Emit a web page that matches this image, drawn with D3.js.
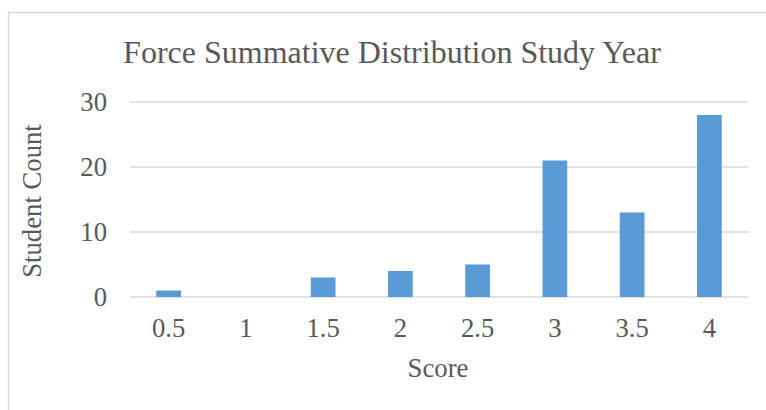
<!DOCTYPE html>
<html>
<head>
<meta charset="utf-8">
<script src="https://cdn.jsdelivr.net/npm/d3@7"></script>
<style>
  body { margin: 0; background: #fff; }
  text { font-family: "Liberation Serif", "Times New Roman", serif; fill: #595959; }
</style>
</head>
<body>
<div id="chart"></div>
<script>
const scores = ["0.5", "1", "1.5", "2", "2.5", "3", "3.5", "4"];
const counts = [1, 0, 3, 4, 5, 21, 13, 28];
const yTicks = [0, 10, 20, 30];

const W = 766, H = 410;
const margin = { top: 102, right: 18, bottom: 113, left: 130 },
    width = W - margin.left - margin.right,
    height = H - margin.top - margin.bottom;

const svg = d3.select("#chart")
    .append("svg")
    .attr("width", W)
    .attr("height", H);

// outer chart border
svg.append("rect")
    .attr("x", 8.5).attr("y", 12.5)
    .attr("width", 800).attr("height", 500)
    .attr("fill", "none")
    .attr("stroke", "#d9d9d9")
    .attr("stroke-width", 1.5);

const g = svg.append("g")
    .attr("transform", `translate(${margin.left}, ${margin.top})`);

const x = d3.scaleBand()
    .domain(scores)
    .range([0, width])
    .paddingInner(0.68)
    .paddingOuter(0.34);

const y = d3.scaleLinear()
    .domain([0, 30])
    .range([height, 0]);

// gridlines
g.selectAll("line.grid")
    .data(yTicks)
    .join("line")
    .attr("class", "grid")
    .attr("x1", 0).attr("x2", width)
    .attr("y1", d => y(d)).attr("y2", d => y(d))
    .attr("stroke", "#d9d9d9")
    .attr("stroke-width", 1.5);

// y tick labels
g.selectAll("text.ytick")
    .data(yTicks)
    .join("text")
    .attr("class", "ytick")
    .attr("x", -23)
    .attr("y", d => y(d))
    .attr("dy", "0.34em")
    .attr("text-anchor", "end")
    .style("font-size", "26.7px")
    .text(d => d);

// bars
g.selectAll("rect.bar")
    .data(counts)
    .join("rect")
    .attr("class", "bar")
    .attr("x", (d, i) => x(scores[i]))
    .attr("y", d => y(d))
    .attr("width", x.bandwidth())
    .attr("height", d => height - y(d))
    .attr("fill", "#5b9bd5");

// x tick labels
g.selectAll("text.xtick")
    .data(scores)
    .join("text")
    .attr("class", "xtick")
    .attr("x", d => x(d) + x.bandwidth() / 2)
    .attr("y", height + 40)
    .attr("text-anchor", "middle")
    .style("font-size", "26.7px")
    .text(d => d);

// title
svg.append("text")
    .attr("x", 392)
    .attr("y", 63)
    .attr("text-anchor", "middle")
    .style("font-size", "32px")
    .text("Force Summative Distribution Study Year");

// x axis title
svg.append("text")
    .attr("x", 438)
    .attr("y", 377)
    .attr("text-anchor", "middle")
    .style("font-size", "26.7px")
    .text("Score");

// y axis title
svg.append("text")
    .attr("transform", "rotate(-90)")
    .attr("x", -201)
    .attr("y", 41)
    .attr("text-anchor", "middle")
    .style("font-size", "26.7px")
    .text("Student Count");
</script>
</body>
</html>
